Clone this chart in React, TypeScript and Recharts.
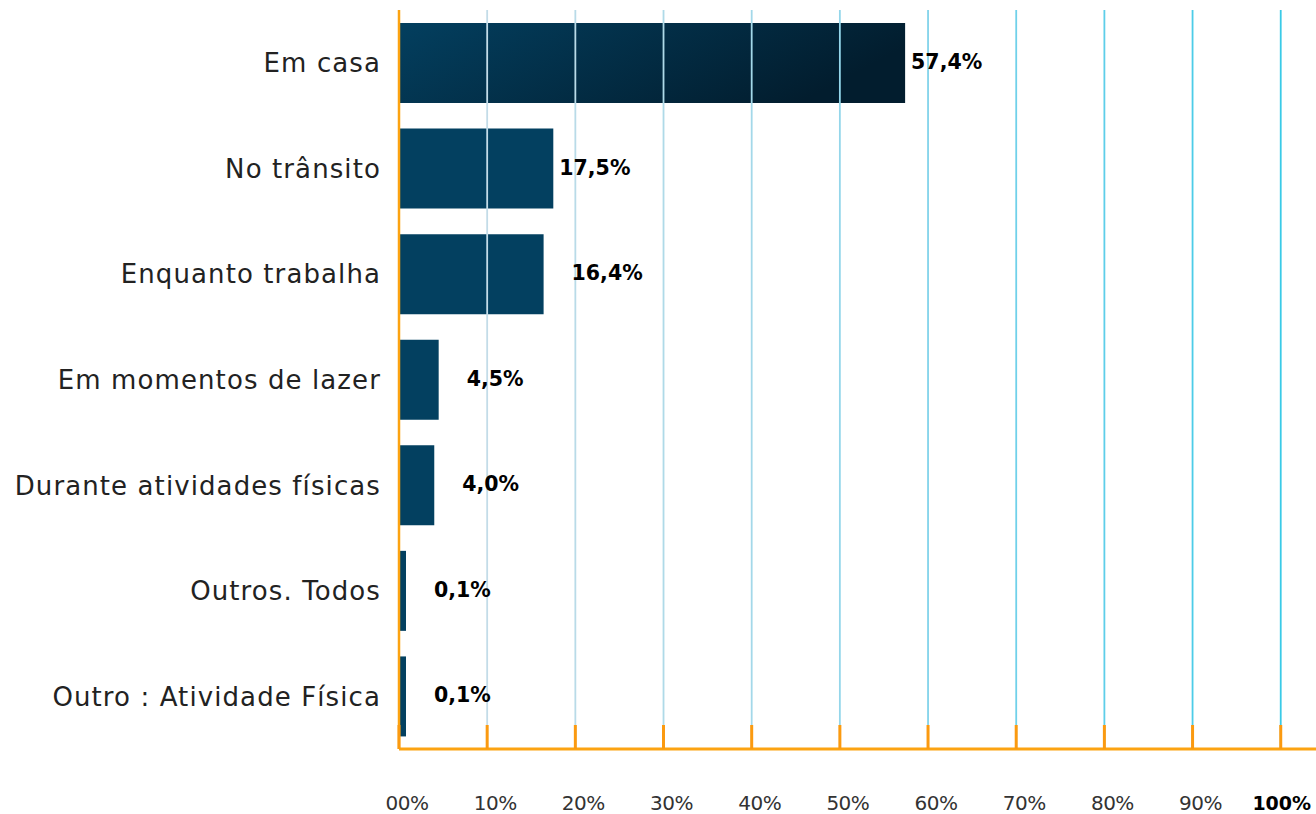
import React from 'react';
import { BarChart, Bar, XAxis, YAxis, Cell, ReferenceLine, LabelList } from 'recharts';

const categories = [
  'Em casa',
  'No trânsito',
  'Enquanto trabalha',
  'Em momentos de lazer',
  'Durante atividades físicas',
  'Outros. Todos',
  'Outro : Atividade Física',
];
const values = [57.4, 17.5, 16.4, 4.5, 4.0, 0.1, 0.1];
const valueLabels = ['57,4%', '17,5%', '16,4%', '4,5%', '4,0%', '0,1%', '0,1%'];
const xTicks = [0, 10, 20, 30, 40, 50, 60, 70, 80, 90, 100];
const xTickLabels = ['00%', '10%', '20%', '30%', '40%', '50%', '60%', '70%', '80%', '90%', '100%'];
const gridColors = ['#c3dce8', '#b9dbe8', '#afdae8', '#a3d8e9', '#94d6ea', '#82d3ea', '#70d1ea', '#5ecee9', '#4ccce8', '#3acae7'];

const data = categories.map((c, i) => ({ name: c, value: values[i], label: valueLabels[i] }));

const FONT = '"DejaVu Sans", sans-serif';
const ORANGE = '#fca311';

const XTick = (props: any) => {
  const { x, y, payload } = props;
  const i = xTicks.indexOf(payload.value);
  const isLast = i === xTicks.length - 1;
  return (
    <g>
      <line x1={x} x2={x} y1={y - 24} y2={y} stroke="#fb9a10" strokeWidth={3} />
      <text
        x={x + (isLast ? 1 : 8)}
        y={y + 55}
        textAnchor="middle"
        dominantBaseline="middle"
        fontFamily={FONT}
        fontSize={isLast ? 19 : 20}
        letterSpacing={isLast ? 0 : -0.5}
        fontWeight={isLast ? 900 : 400}
        fill={isLast ? '#000' : '#333'}
      >
        {xTickLabels[i]}
      </text>
    </g>
  );
};

const YTick = (props: any) => {
  const { x, y, payload } = props;
  return (
    <text
      x={x}
      y={y + 2}
      textAnchor="end"
      dominantBaseline="middle"
      fontFamily={FONT}
      fontSize={26}
      letterSpacing={1.1}
      fill="#222"
    >
      {payload.value}
    </text>
  );
};

const ValueLabel = (props: any) => {
  const { x, y, width, height, value, index } = props;
  const off = values[index] > 17 ? 6 : 28;
  return (
    <text
      x={x + width + off}
      y={y + height / 2}
      textAnchor="start"
      dominantBaseline="middle"
      fontFamily={FONT}
      fontSize={20.5}
      fontWeight={900}
      fill="#000"
    >
      {value}
    </text>
  );
};

export default function App() {
  return (
    <div style={{ position: 'absolute', left: 0, top: 0, width: 1316, height: 814, background: '#fff' }}>
      <BarChart
        width={1316}
        height={814}
        data={data}
        layout="vertical"
        margin={{ top: 10, right: 0, bottom: 0, left: 0 }}
        barCategoryGap={0}
      >
        <defs>
          <linearGradient id="topGrad" x1="0" y1="0" x2="1" y2="0.3">
            <stop offset="0%" stopColor="#033f5f" />
            <stop offset="100%" stopColor="#021d2e" />
          </linearGradient>
        </defs>
        {xTicks.slice(1).map((t, i) => (
          <ReferenceLine key={t} x={t} stroke={gridColors[i]} strokeWidth={1.8} ifOverflow="extendDomain" />
        ))}
        <XAxis
          type="number"
          domain={[0, 104]}
          ticks={xTicks}
          interval={0}
          tick={<XTick />}
          tickLine={false}
          tickSize={0}
          tickMargin={0}
          axisLine={{ stroke: ORANGE, strokeWidth: 3 }}
          height={65}
        />
        <YAxis
          type="category"
          dataKey="name"
          width={399}
          tick={<YTick />}
          tickLine={false}
          tickSize={0}
          tickMargin={18}
          axisLine={{ stroke: ORANGE, strokeWidth: 2.5 }}
          interval={0}
        />
        <Bar dataKey="value" barSize={80} minPointSize={7} isAnimationActive={false} fill="#034060">
          {data.map((d, i) => (
            <Cell key={i} fill={i === 0 ? 'url(#topGrad)' : '#034060'} />
          ))}
          <LabelList dataKey="label" content={<ValueLabel />} />
        </Bar>
      </BarChart>
    </div>
  );
}
